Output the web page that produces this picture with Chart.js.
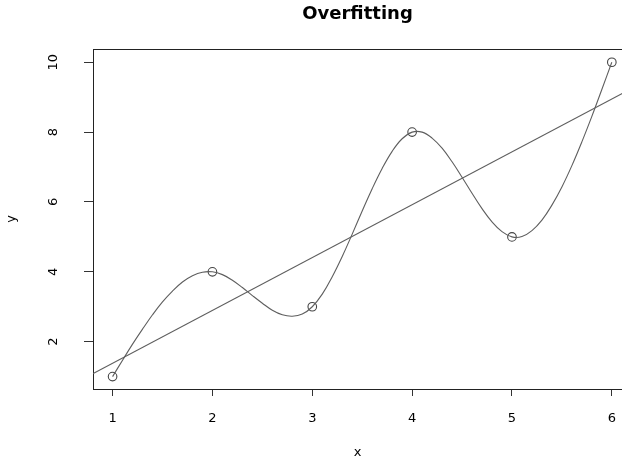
<!DOCTYPE html>
<html><head><meta charset="utf-8">
<script src="https://cdn.jsdelivr.net/npm/chart.js@4"></script>
<style>html,body{margin:0;padding:0;background:#fff;} canvas{display:block}</style>
</head><body>
<canvas id="c" width="622" height="461"></canvas>
<script>
const chartTitle = 'Overfitting';
const xLabel = 'x';
const yLabel = 'y';
const pointX = [1, 2, 3, 4, 5, 6];
const pointY = [1, 4, 3, 8, 5, 10];
const curveX = [1.0,1.1,1.2,1.3,1.4,1.5,1.6,1.7,1.8,1.9,2.0,2.1,2.2,2.3,2.4,2.5,2.6,2.7,2.8,2.9,3.0,3.1,3.2,3.3,3.4,3.5,3.6,3.7,3.8,3.9,4.0,4.1,4.2,4.3,4.4,4.5,4.6,4.7,4.8,4.9,5.0,5.1,5.2,5.3,5.4,5.5,5.6,5.7,5.8,5.9,6.0];
const curveY = [1.00,1.47,1.93,2.36,2.77,3.14,3.45,3.71,3.89,3.99,4.00,3.92,3.76,3.55,3.32,3.10,2.90,2.77,2.73,2.79,3.00,3.36,3.86,4.44,5.08,5.74,6.38,6.96,7.45,7.81,8.00,8.00,7.83,7.54,7.15,6.71,6.25,5.81,5.43,5.15,5.00,5.01,5.18,5.48,5.91,6.43,7.04,7.72,8.45,9.22,10.00];
const fitX = [0.8, 6.2];
const fitY = [1.08, 9.25];
const xTicks = [1, 2, 3, 4, 5, 6];
const yTicks = [2, 4, 6, 8, 10];

const toXY = (xs, ys) => xs.map((x, i) => ({x: x, y: ys[i]}));

Chart.defaults.font.family = "'DejaVu Sans', sans-serif";
Chart.defaults.color = '#000';

const topBorder = {
  id: 'topBorder',
  afterDraw(chart) {
    const {ctx, chartArea: a} = chart;
    ctx.save();
    ctx.strokeStyle = '#222';
    ctx.lineWidth = 1;
    ctx.beginPath();
    ctx.moveTo(a.left, a.top + 0.5);
    ctx.lineTo(a.right + 2, a.top + 0.5);
    ctx.stroke();
    ctx.restore();
  }
};

new Chart(document.getElementById('c'), {
  type: 'scatter',
  data: {
    datasets: [
      { data: toXY(curveX, curveY), showLine: true, borderColor: '#5e5e5e', borderWidth: 1.1, pointRadius: 0, tension: 0.4, fill: false },
      { data: toXY(fitX, fitY), showLine: true, borderColor: '#5e5e5e', borderWidth: 1.1, pointRadius: 0, fill: false },
      { data: toXY(pointX, pointY), showLine: false, pointRadius: 4.3, pointBorderWidth: 1.1, pointBorderColor: '#444', pointBackgroundColor: 'rgba(0,0,0,0)' }
    ]
  },
  options: {
    responsive: false,
    animation: false,
    devicePixelRatio: 1,
    layout: { padding: 0, autoPadding: false },
    plugins: {
      legend: { display: false },
      tooltip: { enabled: false },
      title: {
        display: true, text: chartTitle, fullSize: false, color: '#000',
        font: { size: 18, weight: 'bold', lineHeight: 1.2 },
        padding: { top: 3.5, bottom: 23.9 }
      }
    },
    scales: {
      x: {
        type: 'linear', position: 'bottom', min: 0.804, max: 6.102,
        afterBuildTicks: s => { s.ticks = xTicks.map(v => ({value: v})); },
        afterFit: s => { s.height = 72; s.paddingLeft = 0; s.paddingRight = 0; },
        ticks: { padding: 15, maxRotation: 0, font: { size: 13 }, color: '#000' },
        grid: { drawOnChartArea: false, drawTicks: true, tickLength: 7, color: '#333' },
        border: { display: true, color: '#222' },
        title: { display: true, text: xLabel, font: { size: 13 }, color: '#000', padding: { top: 0, bottom: 1 } }
      },
      y: {
        type: 'linear', position: 'left', min: 0.645, max: 10.38,
        afterBuildTicks: s => { s.ticks = yTicks.map(v => ({value: v})); },
        afterFit: s => { s.width = 93; s.paddingTop = 0; s.paddingBottom = 0; },
        ticks: { minRotation: 90, maxRotation: 90, crossAlign: 'center', padding: 22, font: { size: 13 }, color: '#000' },
        grid: { drawOnChartArea: false, drawTicks: true, tickLength: 9, color: '#333' },
        border: { display: true, color: '#222' },
        title: { display: true, text: yLabel, font: { size: 13 }, color: '#000', padding: { top: 4, bottom: 0 } }
      }
    }
  },
  plugins: [topBorder]
});
</script>
</body></html>
